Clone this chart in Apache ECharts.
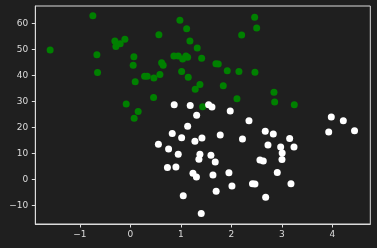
<!DOCTYPE html>
<html><head><meta charset="utf-8">
<script src="https://cdn.jsdelivr.net/npm/echarts@6/dist/echarts.min.js"></script>
<style>html,body{margin:0;padding:0;background:#1f1f1f;}#c{width:377px;height:248px;}</style>
</head><body><div id="c"></div>
<script>
var xTicks = [-1, 0, 1, 2, 3, 4];
var yTicks = [-10, 0, 10, 20, 30, 40, 50, 60];

var greenX = [-1.586,-0.741,-0.661,-0.648,-0.305,-0.285,-0.200,-0.107,-0.081,0.057,
  0.071,0.077,0.097,0.156,0.283,0.335,0.461,0.467,0.566,0.586,
  0.620,0.651,0.863,0.949,0.982,1.016,1.036,1.101,1.115,1.135,
  1.147,1.180,1.285,1.325,1.378,1.412,1.432,1.695,1.741,1.840,
  1.919,2.111,2.150,2.204,2.461,2.467,2.501,2.844,2.857,3.246];
var greenY = [49.8,62.9,47.9,41.1,53.2,51.1,52.2,53.9,29.0,43.9,
  47.2,23.5,37.5,26.1,39.7,39.7,31.5,39.0,55.6,40.3,
  44.9,43.9,47.5,47.5,61.2,41.5,46.3,47.5,57.9,47.0,
  39.3,53.2,34.7,50.5,36.5,46.6,27.9,44.5,44.4,36.0,
  41.8,31.0,41.5,55.5,62.4,41.2,58.2,33.5,29.8,28.7];

var whiteX = [0.869,1.186,1.313,1.550,1.616,1.978,2.349,3.978,4.216,1.135,
  0.830,1.016,1.279,1.418,1.780,2.220,2.671,2.830,3.154,3.927,
  4.438,0.556,0.758,0.949,1.378,1.358,1.596,1.681,2.566,2.632,
  2.725,2.976,3.240,3.006,3.002,0.735,0.903,1.240,1.309,1.636,
  1.952,2.909,2.012,2.418,2.467,3.180,1.699,1.048,2.679,1.404];
var whiteY = [28.7,28.4,24.7,28.7,27.8,26.3,22.5,24.0,22.5,20.4,
  17.6,16.0,14.6,15.9,17.1,15.5,18.5,17.4,15.7,18.2,
  18.7,13.5,11.7,9.6,9.6,7.7,9.3,6.7,7.4,7.0,
  13.2,12.4,12.4,10.1,7.6,4.5,4.7,2.3,0.9,1.7,
  2.5,2.6,-2.6,-1.7,-1.8,-1.7,-4.6,-6.3,-6.9,-13.2];

function pairs(xs, ys){ return xs.map(function(x,i){ return [x, ys[i]]; }); }
function fmt(v){ return String(v).replace('-', '\u2212'); }

var fg = '#dcdcdc';
var chart = echarts.init(document.getElementById('c'), null, {renderer:'canvas'});
chart.setOption({
  backgroundColor: '#1f1f1f',
  animation: false,
  grid: {left: 35.3, right: 6.7, top: 6, bottom: 24, show: true, borderColor: fg, borderWidth: 1, containLabel: false},
  xAxis: {
    type: 'value', min: -1.88, max: 4.75,
    splitLine: {show: false},
    axisLine: {show: true, onZero: false, lineStyle: {color: fg, width: 1}},
    axisTick: {show: true, inside: false, length: 3.5, lineStyle: {color: fg}, customValues: xTicks},
    axisLabel: {color: fg, fontSize: 9, fontFamily: 'DejaVu Sans', margin: 6, customValues: xTicks, formatter: fmt}
  },
  yAxis: {
    type: 'value', min: -17.2, max: 66.7,
    splitLine: {show: false},
    axisLine: {show: true, onZero: false, lineStyle: {color: fg, width: 1}},
    axisTick: {show: true, inside: false, length: 3.5, lineStyle: {color: fg}, customValues: yTicks},
    axisLabel: {color: fg, fontSize: 9, fontFamily: 'DejaVu Sans', margin: 7, customValues: yTicks, formatter: fmt}
  },
  series: [
    {type: 'scatter', data: pairs(greenX, greenY), symbolSize: 7, itemStyle: {color: '#008000', opacity: 1}},
    {type: 'scatter', data: pairs(whiteX, whiteY), symbolSize: 7, itemStyle: {color: '#ffffff', opacity: 1}}
  ]
});
</script></body></html>
